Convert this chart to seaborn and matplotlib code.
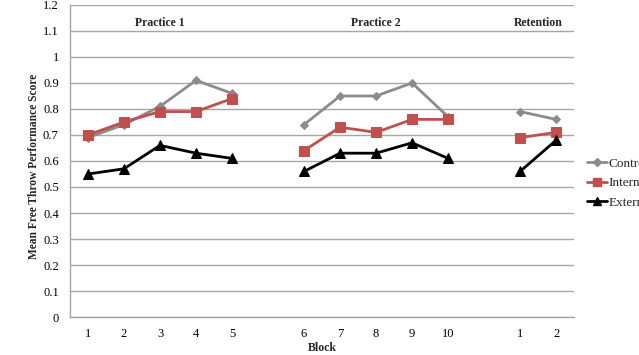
import matplotlib
matplotlib.use("Agg")
import matplotlib.pyplot as plt
import seaborn as sns
import pandas as pd
import numpy as np
from matplotlib.lines import Line2D

# ---- data ----
categories = ["1", "2", "3", "4", "5", "", "6", "7", "8", "9", "10", "", "1", "2"]
segments = [[0, 1, 2, 3, 4], [6, 7, 8, 9, 10], [12, 13]]
segment_titles = ["Practice 1", "Practice 2", "Retention"]
control = [0.69, 0.74, 0.81, 0.91, 0.86, 0.74, 0.85, 0.85, 0.90, 0.77, 0.79, 0.76]
internal = [0.70, 0.75, 0.79, 0.79, 0.84, 0.64, 0.73, 0.71, 0.76, 0.76, 0.69, 0.71]
external = [0.55, 0.57, 0.66, 0.63, 0.61, 0.56, 0.63, 0.63, 0.67, 0.61, 0.56, 0.68]
groups = ["Control", "Internal", "External"]
y_ticks = [0, 0.1, 0.2, 0.3, 0.4, 0.5, 0.6, 0.7, 0.8, 0.9, 1, 1.1, 1.2]
y_tick_labels = ["0", "0.1", "0.2", "0.3", "0.4", "0.5", "0.6", "0.7", "0.8", "0.9", "1", "1.1", "1.2"]

sns.set_theme(style="white")
plt.rcParams["font.family"] = ["Liberation Serif", "DejaVu Serif"]

rows = []
values = {"Control": control, "Internal": internal, "External": external}
for g in groups:
    k = 0
    for s, seg in enumerate(segments):
        for pos in seg:
            rows.append({"group": g, "seg": s, "x": pos, "y": values[g][k]})
            k += 1
df = pd.DataFrame(rows)

styles = {
    "Control": dict(color="#8C8C8C", marker="D", ms=4.5, lw=2.0),
    "Internal": dict(color="#C0504D", marker="s", ms=7, lw=2.0),
    "External": dict(color="#000000", marker="^", ms=7, lw=2.0),
}

fig = plt.figure(figsize=(6.39, 3.55), dpi=100)
ax = fig.add_axes([0.1095, 0.107, 0.789, 0.879])

for g in groups:
    st = styles[g]
    for s in range(len(segments)):
        d = df[(df.group == g) & (df.seg == s)]
        sns.lineplot(data=d, x="x", y="y", ax=ax, color=st["color"], lw=st["lw"],
                     marker=st["marker"], markersize=st["ms"], markeredgecolor=st["color"],
                     legend=False, estimator=None, sort=False)

ax.set_xlim(-0.5, len(categories) - 0.5)
ax.set_ylim(0, 1.2)
ax.set_xticks(range(len(categories)))
ax.set_xticklabels(categories, fontsize=9)
ax.set_yticks(y_ticks)
ax.set_yticklabels(y_tick_labels, fontsize=9)
ax.tick_params(axis="both", length=0, pad=8, colors="black")
ax.yaxis.grid(True, color="#A6A6A6", lw=1.0)
ax.xaxis.grid(False)
for sp in ["top", "right"]:
    ax.spines[sp].set_visible(False)
for sp in ["left", "bottom"]:
    ax.spines[sp].set_color("#A6A6A6")
    ax.spines[sp].set_linewidth(1.0)

ax.set_xlabel("Block", fontsize=8.5, fontweight="bold", labelpad=1)
ax.set_ylabel("Mean Free Throw Performance Score", fontsize=8.3, fontweight="bold")
ax.yaxis.set_label_coords(-0.0585, 0.484)

for title, seg in zip(segment_titles, segments):
    ax.text(np.mean(seg), 1.13, title, ha="center", va="center",
            fontsize=8.5, fontweight="bold")

handles = [Line2D([0], [0], color=styles[g]["color"], lw=2, marker=styles[g]["marker"],
                  markersize=styles[g]["ms"] * 0.9) for g in groups]
fig.legend(handles, groups, loc="upper left", bbox_to_anchor=(0.918, 0.556),
           frameon=False, fontsize=9.5, handlelength=1.55, handletextpad=0.1,
           labelspacing=0.55, borderaxespad=0, borderpad=0)

fig.savefig("out.png", dpi=100)
